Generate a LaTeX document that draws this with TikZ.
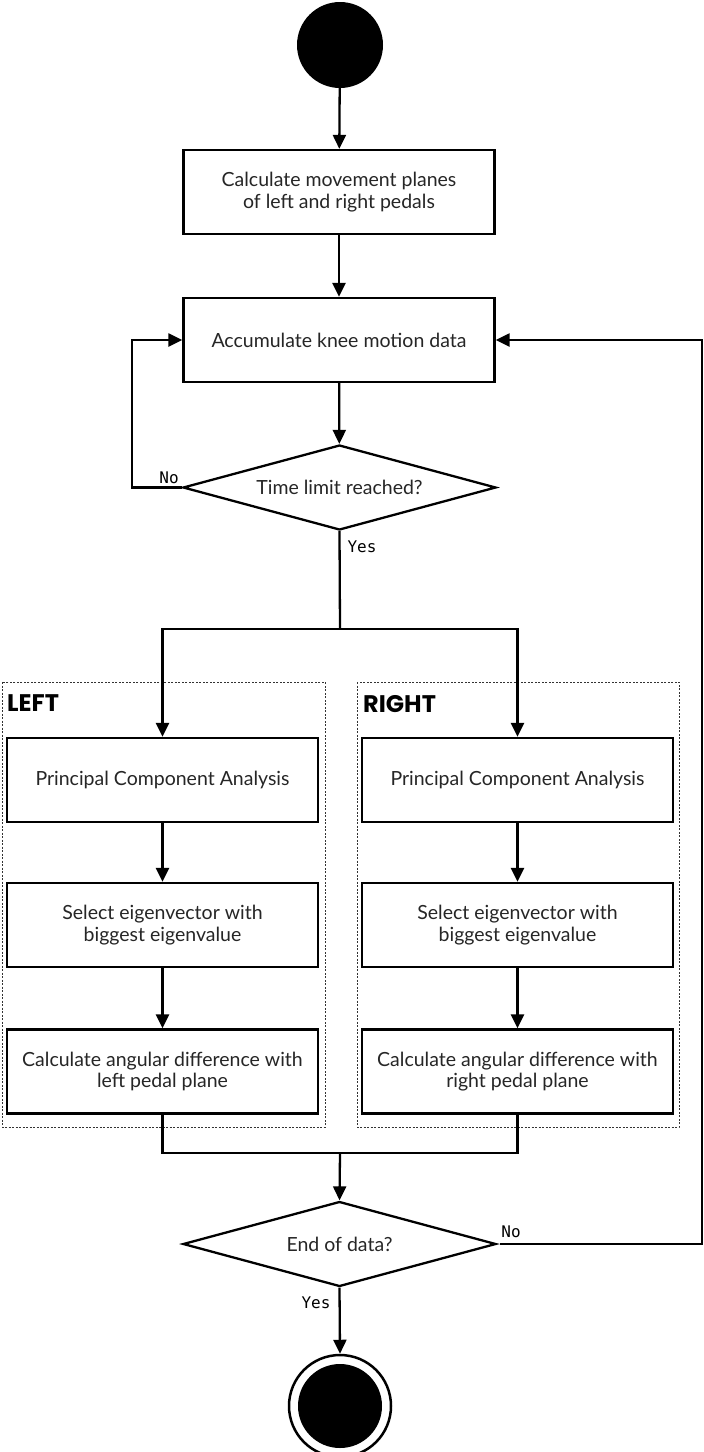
\documentclass[tikz,border=0pt]{standalone}
\usepackage{fontspec}
\setmainfont{Lato}
\setmonofont{DejaVu Sans Mono}
\newfontfamily\heavyfont{Poppins}
\usetikzlibrary{shapes.geometric,arrows.meta}

\begin{document}
\begin{tikzpicture}[x=1pt,y=-1pt,
  line join=miter,
  proc/.style={draw, line width=2.3pt, fill=white, minimum width=311pt, minimum height=84pt,
    inner sep=0pt, align=center, text=black!85, font=\fontsize{19.5}{21.5}\selectfont},
  decision/.style={diamond, draw, line width=2.3pt, fill=white, minimum width=313pt,
    minimum height=85pt, inner sep=0pt, aspect=3.6, text=black!85,
    font=\fontsize{19.5}{21.5}\selectfont},
  flow/.style={line width=2.3pt},
  arr/.style={flow, -{Triangle[length=14pt,width=13pt]}},
  lbl/.style={font=\ttfamily\fontsize{16}{16}\selectfont, inner sep=0pt},
  lane/.style={draw=black!80, line width=0.9pt, dash pattern=on 2pt off 1.5pt},
  lanetitle/.style={font=\heavyfont\bfseries\fontsize{24}{24}\selectfont, inner sep=0pt, anchor=base west},
  startdot/.style={circle, fill=black, minimum size=86pt, inner sep=0pt},
  endring/.style={circle, draw, line width=2.5pt, fill=white, minimum size=102pt, inner sep=0pt},
  enddot/.style={circle, fill=black, minimum size=84pt, inner sep=0pt}]

\useasboundingbox (0,0) rectangle (704,1452);

% swimlane frames
\draw[lane] (2,682) rectangle (325,1127);
\draw[lane] (357,682) rectangle (679,1127);
\node[lanetitle] (tleft) at (7,711) {LEFT};
\node[lanetitle] (tright) at (363,712) {RIGHT};

% main column
\node[startdot] (start) at (340,45) {};
\node[proc] (planes) at (339,192) {Calculate movement planes\\of left and right pedals};
\node[proc] (acc) at (339,340) {Accumulate knee motion data};
\node[decision] (limit) at (339.5,487.5) {Time limit reached?};

% left branch
\node[proc] (pcaL) at (162.5,780) {Principal Component Analysis};
\node[proc] (selL) at (162.5,925) {Select eigenvector with\\biggest eigenvalue};
\node[proc] (angL) at (162.5,1071.5) {Calculate angular difference with\\left pedal plane};

% right branch
\node[proc] (pcaR) at (517.5,780) {Principal Component Analysis};
\node[proc] (selR) at (517.5,925) {Select eigenvector with\\biggest eigenvalue};
\node[proc] (angR) at (517.5,1071.5) {Calculate angular difference with\\right pedal plane};

\node[decision] (eod) at (339.5,1244) {End of data?};
\node[endring] (stop) at (340,1406) {};
\node[enddot] (stopdot) at (340,1406) {};

% routing points
\coordinate (split) at (340,629);
\coordinate (merge) at (340,1153);
\coordinate (loopL) at (132,487.5);
\coordinate (loopR) at (702,1244);

% connectors
\draw[arr] (start) -- (planes);
\draw[arr] (planes) -- (acc);
\draw[arr] (acc) -- (limit);
\draw[arr] (limit.west) -- (loopL) |- (acc.west);
\draw[flow] (limit.south) -- (split);
\draw[arr] (split) -| (pcaL.north);
\draw[arr] (split) -| (pcaR.north);
\draw[arr] (pcaL) -- (selL);
\draw[arr] (selL) -- (angL);
\draw[arr] (pcaR) -- (selR);
\draw[arr] (selR) -- (angR);
\draw[flow] (angL.south) |- (merge);
\draw[flow] (angR.south) |- (merge);
\draw[arr] (merge) -- (eod.north);
\draw[arr] ([xshift=3pt]eod.east) -- (loopR) |- (acc.east);
\draw[arr] (eod.south) -- (stop.north);

% branch labels
\node[lbl] (no1) at (169,478) {No};
\node[lbl] (yes1) at (362,547) {Yes};
\node[lbl] (no2) at (511,1232) {No};
\node[lbl] (yes2) at (316,1303) {Yes};
\end{tikzpicture}
\end{document}
